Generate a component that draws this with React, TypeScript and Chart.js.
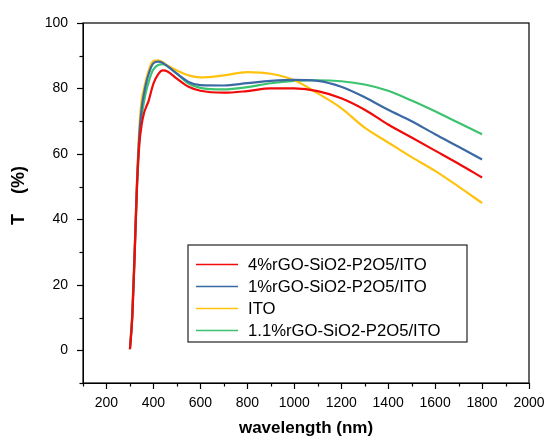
import React, { useEffect, useRef } from "react";
import { Chart, registerables } from "chart.js";

Chart.register(...registerables);

const wavelengths = [300, 310, 320, 330, 340, 350, 360, 370, 380, 390, 400, 420, 440, 460, 500, 550, 600, 700, 800, 900, 1000, 1100, 1200, 1300, 1400, 1500, 1600, 1700, 1800];

const seriesLabels = ["4%rGO-SiO2-P2O5/ITO", "1%rGO-SiO2-P2O5/ITO", "ITO", "1.1%rGO-SiO2-P2O5/ITO"];
const seriesColors = ["#F00A0A", "#3A69A3", "#FFC20E", "#3CC36E"];

const red4 = [0.3, 10, 29, 50, 63, 69, 72.5, 74.5, 76.3, 79, 81.5, 84.3, 85.5, 85.2, 83, 80.5, 79.3, 78.7, 79.2, 80, 80, 79.2, 77, 73.5, 69, 65, 61, 57, 52.8];
const blue1 = [0.5, 11, 30, 51, 66, 74, 78.5, 82, 84.5, 86.5, 87.7, 88.2, 87.8, 86.8, 84.5, 82, 81, 80.9, 81.6, 82.3, 82.6, 82.3, 80.5, 77.3, 73.5, 70, 66, 62.2, 58.3];
const ito = [0.5, 12, 31, 52, 68, 76.5, 80, 83, 85.5, 87.5, 88.4, 88.6, 88, 87, 85.5, 84, 83.4, 84, 85, 84.5, 82.5, 78.5, 74, 68, 63.5, 59, 54.8, 50, 45];
const green11 = [0.3, 10, 29, 50, 64, 71.5, 76, 79.5, 82, 84.3, 85.8, 87.2, 87.4, 86.8, 84.5, 81.5, 80.2, 79.7, 80.4, 81.6, 82.3, 82.5, 82.2, 81.2, 79.3, 76.3, 73, 69.5, 66];

const seriesValues = [red4, blue1, ito, green11];

const xTickMin = 100;
const xTickMax = 2000;
const yTickMin = -10;
const yTickMax = 100;

const FONT = "Arial, 'Liberation Sans', sans-serif";

const decorPlugin = {
  id: "decor",
  afterDraw(chart: any) {
    const { ctx, chartArea: a, scales } = chart;
    ctx.save();
    ctx.strokeStyle = "#000";
    ctx.lineWidth = 1.2;
    ctx.strokeRect(a.left, a.top, a.right - a.left, a.bottom - a.top);
    const xs = scales.x;
    xs.ticks.forEach((t: any) => {
      const px = Math.round(xs.getPixelForValue(t.value)) + 0.5;
      const len = t.value % 200 === 0 ? 6 : 3.5;
      ctx.beginPath();
      ctx.moveTo(px, a.bottom);
      ctx.lineTo(px, a.bottom + len);
      ctx.stroke();
    });
    const ys = scales.y;
    ys.ticks.forEach((t: any) => {
      const py = Math.round(ys.getPixelForValue(t.value)) + 0.5;
      const len = t.value % 20 === 0 ? 6 : 3.5;
      ctx.beginPath();
      ctx.moveTo(a.left, py);
      ctx.lineTo(a.left - len, py);
      ctx.stroke();
    });
    // legend
    const bx = a.left + 105;
    const by = a.top + 222;
    const bw = 279;
    const bh = 97;
    ctx.fillStyle = "#fff";
    ctx.fillRect(bx, by, bw, bh);
    ctx.lineWidth = 1.2;
    ctx.strokeStyle = "#222";
    ctx.strokeRect(bx, by, bw, bh);
    ctx.font = `16.7px ${FONT}`;
    ctx.textBaseline = "middle";
    ctx.textAlign = "left";
    chart.data.datasets.forEach((ds: any, i: number) => {
      const yy = by + 19.5 + i * 22;
      ctx.strokeStyle = ds.borderColor;
      ctx.lineWidth = 1.5;
      ctx.beginPath();
      ctx.moveTo(bx + 8, yy);
      ctx.lineTo(bx + 50, yy);
      ctx.stroke();
      ctx.fillStyle = "#000";
      ctx.fillText(ds.label, bx + 60, yy + 1);
    });
    ctx.restore();
  },
};

export default function App() {
  const ref = useRef<HTMLCanvasElement>(null);
  useEffect(() => {
    if (!ref.current) return;
    const datasets = seriesLabels.map((label, i) => ({
      label,
      data: wavelengths.map((w, j) => ({ x: w, y: seriesValues[i][j] })),
      borderColor: seriesColors[i],
      backgroundColor: seriesColors[i],
      borderWidth: 2.2,
      pointRadius: 0,
      cubicInterpolationMode: "monotone" as const,
      fill: false,
    }));
    const chart = new Chart(ref.current, {
      type: "line",
      data: { datasets },
      options: {
        animation: false,
        responsive: false,
        layout: { padding: { top: 23, right: 18, left: 0, bottom: 0 } },
        plugins: { legend: { display: false }, tooltip: { enabled: false } },
        scales: {
          x: {
            type: "linear",
            min: xTickMin,
            max: xTickMax,
            afterFit(scale: any) {
              scale.height = 57;
              scale.paddingLeft = 0;
              scale.paddingRight = 0;
            },
            ticks: {
              stepSize: 100,
              autoSkip: false,
              maxRotation: 0,
              padding: 6,
              color: "#000",
              font: { family: FONT, size: 14 },
              callback: (v: any) => (Number(v) % 200 === 0 ? String(v) : ""),
            },
            grid: { display: true, drawOnChartArea: false, tickLength: 6, tickColor: "rgba(0,0,0,0)" },
            border: { display: true, color: "#000", width: 1 },
            title: {
              display: true,
              text: "wavelength (nm)",
              color: "#000",
              font: { family: FONT, size: 17, weight: "bold" },
              padding: { top: 0, bottom: 1 },
            },
          },
          y: {
            type: "linear",
            min: yTickMin,
            max: yTickMax,
            afterFit(scale: any) {
              scale.width = 83;
              scale.paddingTop = 0;
              scale.paddingBottom = 0;
            },
            ticks: {
              stepSize: 10,
              autoSkip: false,
              padding: 9,
              color: "#000",
              font: { family: FONT, size: 14 },
              callback: (v: any) => (Number(v) % 20 === 0 ? String(v) : ""),
            },
            grid: { display: true, drawOnChartArea: false, tickLength: 6, tickColor: "rgba(0,0,0,0)" },
            border: { display: true, color: "#000", width: 1 },
            title: {
              display: true,
              text: "   T    (%)",
              color: "#000",
              font: { family: FONT, size: 18, weight: "bold" },
              padding: { top: 8, bottom: 0 },
            },
          },
        },
      },
      plugins: [decorPlugin],
    });
    return () => chart.destroy();
  }, []);
  return (
    <div style={{ position: "absolute", left: 0, top: 0, width: 547, height: 440, background: "#fff" }}>
      <canvas ref={ref} width={547} height={440} style={{ display: "block" }} />
    </div>
  );
}
